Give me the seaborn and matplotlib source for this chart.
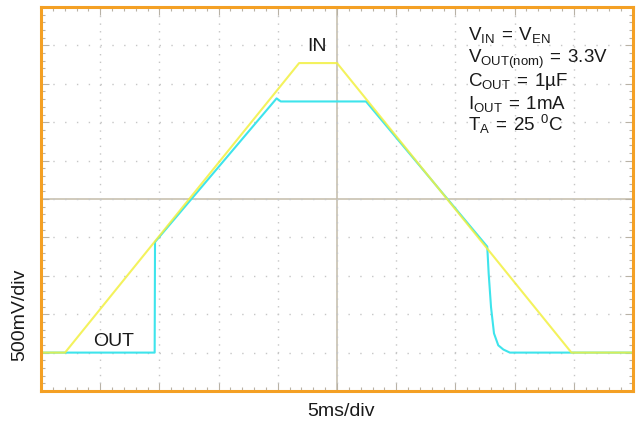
import matplotlib
matplotlib.use('Agg')
import matplotlib.pyplot as plt
import seaborn as sns
from matplotlib.ticker import MultipleLocator

# Scope trace data: time in ms (5 ms/div), voltage in V (500 mV/div)
in_time = [0, 2.03, 21.8, 25.0, 44.8, 50]
in_volt = [0, 0, 3.77, 3.77, 0, 0]

out_time = [0, 9.60, 9.63, 19.9, 20.25, 27.45, 37.69, 37.81, 38.01, 38.26, 38.62, 39.05, 39.6, 50]
out_volt = [0, 0, 1.44, 3.31, 3.27, 3.27, 1.38, 1.03, 0.59, 0.25, 0.095, 0.04, 0.0, 0]

conditions = [
    r'$\mathregular{V_{IN}\,=\,V_{EN}}$',
    r'$\mathregular{V_{OUT(nom)}\,=\,3.3V}$',
    r'$\mathregular{C_{OUT}\,=\,1µF}$',
    r'$\mathregular{I_{OUT}\,=\,1mA}$',
    r'$\mathregular{T_{A}\,=\,25\ {}^{0}C}$',
]

sns.set_style('white')
plt.rcParams['font.family'] = ['Liberation Sans', 'DejaVu Sans']

W, H = 637, 421
fig = plt.figure(figsize=(W / 100, H / 100), dpi=100)
pos = [41 / W, (H - 391) / H, 592 / W, 384 / H]

# center crosshair axes (drawn underneath)
ax2 = fig.add_axes(pos, zorder=0)
ax2.set_xlim(0, 50)
ax2.set_ylim(-0.5, 4.5)
ax2.patch.set_visible(False)
for s in ['top', 'right']:
    ax2.spines[s].set_visible(False)
for s in ['left', 'bottom']:
    ax2.spines[s].set_position(('axes', 0.5))
    ax2.spines[s].set_color('#c4bcaa')
    ax2.spines[s].set_linewidth(1.1)
ax2.xaxis.set_major_locator(MultipleLocator(5))
ax2.xaxis.set_minor_locator(MultipleLocator(1))
ax2.yaxis.set_major_locator(MultipleLocator(0.5))
ax2.yaxis.set_minor_locator(MultipleLocator(0.1))
ax2.tick_params(which='major', direction='inout', length=7, width=1.0, color='#beb6a4')
ax2.tick_params(which='minor', direction='inout', length=4.5, width=1.0, color='#beb6a4')
ax2.tick_params(labelbottom=False, labelleft=False)

# main axes
ax = fig.add_axes(pos, zorder=1)
ax.patch.set_visible(False)
ax.set_xlim(0, 50)
ax.set_ylim(-0.5, 4.5)
ax.xaxis.set_major_locator(MultipleLocator(5))
ax.xaxis.set_minor_locator(MultipleLocator(1))
ax.yaxis.set_major_locator(MultipleLocator(0.5))
ax.yaxis.set_minor_locator(MultipleLocator(0.1))
ax.tick_params(which='both', direction='in', top=True, right=True, bottom=True, left=True,
               labelbottom=False, labelleft=False, color='#b8b2a6', width=0.8)
ax.tick_params(which='major', length=6)
ax.tick_params(which='minor', length=3)
ax.grid(axis='x', which='major', linestyle=(0, (1, 4.5)), color='#c6c6c6', linewidth=1)
ax.grid(axis='y', which='major', linestyle=(0, (1, 7.5)), color='#c6c6c6', linewidth=1)
for s in ax.spines.values():
    s.set_color('#f4a024')
    s.set_linewidth(2.2)

sns.lineplot(x=out_time, y=out_volt, ax=ax, color='#3ee4ec', linewidth=1.5,
             sort=False, estimator=None)
sns.lineplot(x=in_time, y=in_volt, ax=ax, color='#f2f040', linewidth=1.5, alpha=0.85,
             sort=False, estimator=None)
ax.set_xlabel('')
ax.set_ylabel('')

txt = dict(fontsize=14, color='#1a1a1a')
ax.text(23.35, 3.93, 'IN', ha='center', va='baseline', **txt)
ax.text(6.17, 0.08, 'OUT', ha='center', va='baseline', **txt)

base_y = [4.076, 3.767, 3.467, 3.168, 2.88]
for label, yy in zip(conditions, base_y):
    ax.text(36.06, yy, label, ha='left', va='baseline', fontsize=13.5, color='#1a1a1a')

fig.text(341 / W, 1 - 416 / H, '5ms/div', ha='center', va='baseline', **txt)
fig.text(19.5 / W, 1 - 315 / H, '500mV/div', ha='center', va='center', rotation=90, **txt)

fig.savefig('out.png', dpi=100)
